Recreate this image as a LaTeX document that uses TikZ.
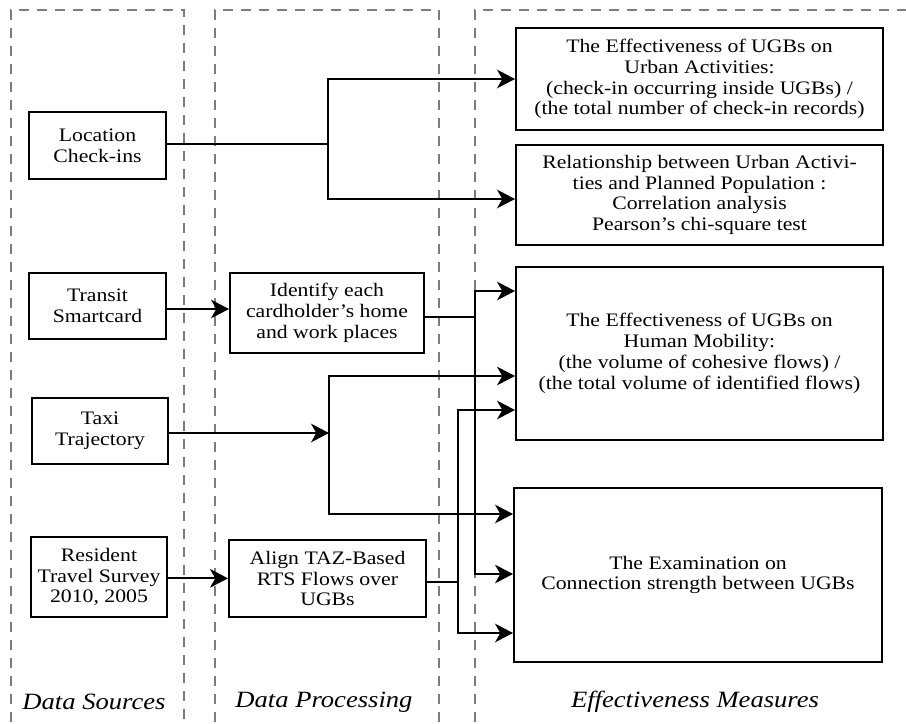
\documentclass[tikz,border=0pt]{standalone}
\usepackage{fontspec}
\setmainfont[FakeStretch=1.14]{Liberation Serif}
\usetikzlibrary{arrows.meta,calc}
\definecolor{dashgray}{RGB}{125,125,125}
\tikzset{
  box/.style={draw=black,line width=1.5pt,rectangle,inner sep=0pt,align=center,
    font=\fontsize{14.3pt}{15.6pt}\selectfont},
  conn/.style={draw=black,line width=1.5pt},
  arr/.style={conn,-{Stealth[length=13.5pt,width=14pt,inset=4pt]}},
  panel/.style={draw=dashgray,line width=1.1pt,dash pattern=on 7.5pt off 6pt},
  lab/.style={font=\fontsize{17.5pt}{19pt}\selectfont\itshape,inner sep=0pt}
}
\begin{document}
\begin{tikzpicture}[x=0.75pt,y=-0.75pt]
\useasboundingbox (0,0) rectangle (906,724);
\clip (0,0) rectangle (906,724);
\fill[white] (0,0) rectangle (906,724);
% panels
\draw[panel] (11,740) -- (11,10) -- (184,10) -- (184,740);
\draw[panel] (215,740) -- (215,10) -- (439,10) -- (439,740);
\draw[panel] (475,740) -- (475,10) -- (912,10);
% source nodes
\node[box,minimum width=102.75pt,minimum height=50.25pt] (loc) at (97.5,145.5) {Location\\Check-ins};
\node[box,minimum width=102.75pt,minimum height=49.5pt] (transit) at (97.5,306) {Transit\\Smartcard};
\node[box,minimum width=102pt,minimum height=49.5pt] (taxi) at (100,431) {Taxi\\Trajectory};
\node[box,minimum width=102pt,minimum height=60pt] (rts) at (99,577) {Resident\\Travel Survey\\2010, 2005};
% processing
\node[box,minimum width=145.5pt,minimum height=60pt] (ident) at (327,313) {Identify each\\cardholder’s home\\and work places};
\node[box,minimum width=147.75pt,minimum height=57.75pt] (align) at (327.5,578.5) {Align TAZ-Based\\RTS Flows over\\UGBs};
% measures
\node[box,minimum width=275.25pt,minimum height=76.5pt] (m1) at (699.5,79) {The Effectiveness of UGBs on\\Urban Activities:\\(check-in occurring inside UGBs) /\\(the total number of check-in records)};
\node[box,minimum width=275.25pt,minimum height=75pt] (m2) at (699.5,195) {Relationship between Urban Activi-\\ties and Planned Population :\\Correlation analysis\\Pearson’s chi-square test};
\node[box,minimum width=275.25pt,minimum height=129.75pt] (m3) at (699.5,353.5) {The Effectiveness of UGBs on\\Human Mobility:\\(the volume of cohesive flows) /\\(the total volume of identified flows)};
\node[box,minimum width=276pt,minimum height=130.5pt] (m4) at (698,575) {The Examination on\\Connection strength between UGBs};
% labels
\node[lab] (l1) at (94,702) {Data Sources};
\node[lab] (l2) at (324,702) {Data Processing};
\node[lab] (l3) at (695,702) {Effectiveness Measures};
% junction coordinates
\coordinate (j1) at ([yshift=1.5pt]loc.east -| 328,0);
\coordinate (j2) at ([yshift=-3pt]ident.east -| 475,0);
\coordinate (j3) at ([yshift=-1.5pt]taxi.east -| 329,0);
\coordinate (j4) at ([yshift=-2.6pt]align.east -| 458,0);
% location check-ins
\draw[conn] ([yshift=1.5pt]loc.east) -- (j1);
\draw[arr] (j1) |- ($(m1.north west)+(0,52)$);
\draw[arr] (j1) |- ($(m2.north west)+(0,55)$);
% transit
\draw[arr] ([yshift=-2.25pt]transit.east) -- ([yshift=-2.25pt]transit.east -| ident.west);
% identify
\draw[conn] ([yshift=-3pt]ident.east) -- (j2);
\draw[arr] (j2) |- ($(m3.north west)+(0,25)$);
\draw[arr] (j2) |- ($(m4.north west)+(0,87)$);
% taxi
\draw[arr] ([yshift=-1.5pt]taxi.east) -- (j3);
\draw[arr] (j3) |- ($(m3.north west)+(0,110)$);
\draw[arr] (j3) |- ($(m4.north west)+(0,27)$);
% rts
\draw[arr] ([yshift=-1pt]rts.east) -- ([yshift=-1pt]rts.east -| align.west);
% align
\draw[conn] ([yshift=-2.6pt]align.east) -- (j4);
\draw[arr] (j4) |- ($(m3.north west)+(0,144)$);
\draw[arr] (j4) |- ($(m4.north west)+(0,146)$);
\end{tikzpicture}
\end{document}
